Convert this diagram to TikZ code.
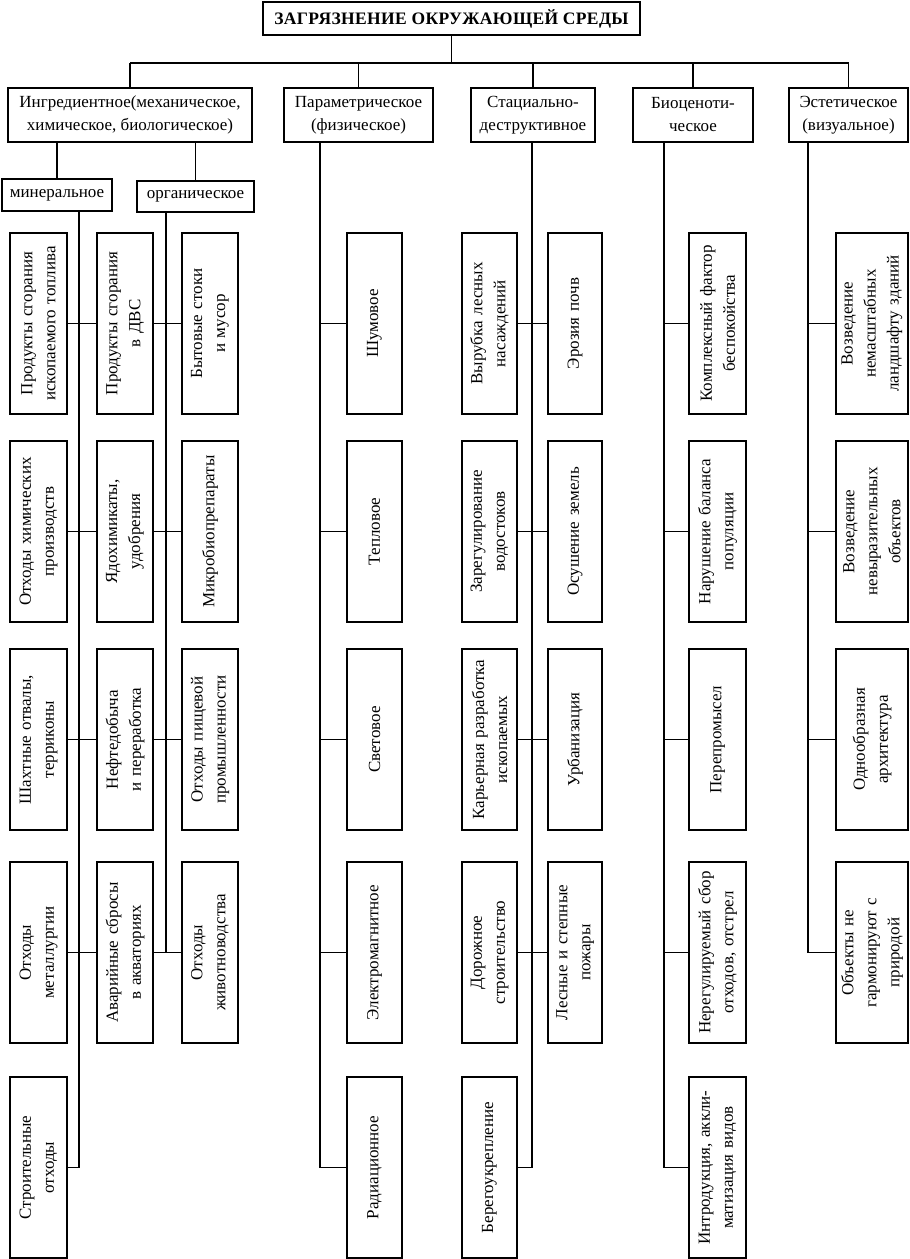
\documentclass[tikz,border=0pt]{standalone}
\usepackage{fontspec}
\setmainfont{Liberation Serif}
\usetikzlibrary{positioning}

\begin{document}
\begin{tikzpicture}[x=1pt,y=-1pt,line width=1.5pt,
  font=\fontsize{17}{23}\selectfont,
  box/.style={draw,align=center,inner sep=0pt},
  leaf/.style={box,rotate=90,text width=178pt,minimum width=181pt}]
\useasboundingbox (0,0) rectangle (910,1259);

% top levels
\node[box,font=\fontsize{17.5}{23}\selectfont\bfseries\addfontfeature{LetterSpace=2},minimum width=377pt,minimum height=33pt] (title) at (451.5,18.5) {ЗАГРЯЗНЕНИЕ ОКРУЖАЮЩЕЙ СРЕДЫ};
\node[box,minimum width=244pt,minimum height=54pt] (ing) at (130,115) {Ингредиентное(механическое,\\химическое, биологическое)};
\node[box,minimum width=149pt,minimum height=54pt] (par) at (358.5,115) {Параметрическое\\(физическое)};
\node[box,minimum width=124pt,minimum height=54pt] (sta) at (533,115) {Стациально-\\деструктивное};
\node[box,minimum width=120pt,minimum height=54pt] (bio) at (693,115) {Биоценоти-\\ческое};
\node[box,minimum width=119pt,minimum height=54pt] (est) at (848.5,115) {Эстетическое\\(визуальное)};
\node[box,minimum width=110pt,minimum height=32pt] (min) at (57,195) {минеральное};
\node[box,minimum width=117pt,minimum height=31pt] (org) at (195.5,196.5) {органическое};

% leaves
\foreach \i/\y/\t in {1/323.5/{Продукты сгорания\\ископаемого топлива}, 2/531.5/{Отходы химических\\производств},
  3/739.5/{Шахтные отвалы,\\терриконы}, 4/952.5/{Отходы\\металлургии}, 5/1167.5/{Строительные\\отходы}}
  \node[leaf,minimum height=57pt] (m\i) at (38.5,\y) {\t};
\foreach \i/\y/\t in {1/323.5/{Продукты сгорания\\в ДВС}, 2/531.5/{Ядохимикаты,\\удобрения},
  3/739.5/{Нефтедобыча\\и переработка}, 4/952.5/{Аварийные сбросы\\в акваториях}}
  \node[leaf,minimum height=56pt] (n\i) at (125,\y) {\t};
\foreach \i/\y/\t in {1/323.5/{Бытовые стоки\\и мусор}, 2/531.5/{Микробиопрепараты},
  3/739.5/{Отходы пищевой\\промышленности}, 4/952.5/{Отходы\\животноводства}}
  \node[leaf,minimum height=56pt] (o\i) at (210,\y) {\t};
\foreach \i/\y/\t in {1/323.5/Шумовое, 2/531.5/Тепловое, 3/739.5/Световое,
  4/952.5/Электромагнитное, 5/1167.5/Радиационное}
  \node[leaf,minimum height=55pt] (p\i) at (374.5,\y) {\t};
\foreach \i/\y/\t in {1/323.5/{Вырубка лесных\\насаждений}, 2/531.5/{Зарегулирование\\водостоков},
  3/739.5/{Карьерная разработка\\ископаемых}, 4/952.5/{Дорожное\\строительство}, 5/1167.5/{Берегоукрепление}}
  \node[leaf,minimum height=55pt] (s\i) at (489.5,\y) {\t};
\foreach \i/\y/\t in {1/323.5/{Эрозия почв}, 2/531.5/{Осушение земель},
  3/739.5/{Урбанизация}, 4/952.5/{Лесные и степные\\пожары}}
  \node[leaf,minimum height=54pt] (t\i) at (575,\y) {\t};
\foreach \i/\y/\t in {1/323.5/{Комплексный фактор\\беспокойства}, 2/531.5/{Нарушение баланса\\популяции},
  3/739.5/{Перепромысел}, 4/952.5/{Нерегулируемый сбор\\отходов, отстрел}, 5/1167.5/{Интродукция, аккли-\\матизация видов}}
  \node[leaf,minimum height=57pt] (b\i) at (717.5,\y) {\t};
\foreach \i/\y/\t in {1/323.5/{Возведение\\немасштабных\\ландшафту зданий}, 2/531.5/{Возведение\\невыразительных\\объектов},
  3/739.5/{Однообразная\\архитектура}, 4/952.5/{Объекты не\\гармонируют с\\природой}}
  \node[leaf,minimum height=72pt] (e\i) at (872,\y) {\t};

% bus and branches
\coordinate (bus) at (0,63);
\draw (title.south) -- (title.south |- bus);
\draw (ing.north |- bus) -- (est.north |- bus);
\foreach \c in {ing,par,sta,bio,est}
  \draw (\c.north) -- (\c.north |- bus);
\draw (min.north) -- (min.north |- ing.south);
\draw (org.north) -- (org.north |- ing.south);

% trunks
\coordinate (mtr) at (79,0);
\coordinate (otr) at (166,0);
\coordinate (ptr) at (320,0);
\coordinate (str) at (532,0);
\coordinate (btr) at (664,0);
\coordinate (etr) at (808,0);
\draw (mtr |- min.south) -- (mtr |- m5) -- (m5.south);
\draw (otr |- org.south) -- (otr |- o4);
\draw (ptr |- par.south) -- (ptr |- p5) -- (p5.north);
\draw (str |- sta.south) -- (str |- s5) -- (s5.south);
\draw (btr |- bio.south) -- (btr |- b5) -- (b5.north);
\draw (etr |- est.south) -- (etr |- e4) -- (e4.north);

% stubs
\foreach \i in {1,...,4} {
  \draw (m\i.south) -- (n\i.north);
  \draw (n\i.south) -- (o\i.north);
  \draw (s\i.south) -- (t\i.north);
  \draw (ptr |- p\i) -- (p\i.north);
  \draw (btr |- b\i) -- (b\i.north);
}
\foreach \i in {1,...,3}
  \draw (etr |- e\i) -- (e\i.north);
\end{tikzpicture}
\end{document}
